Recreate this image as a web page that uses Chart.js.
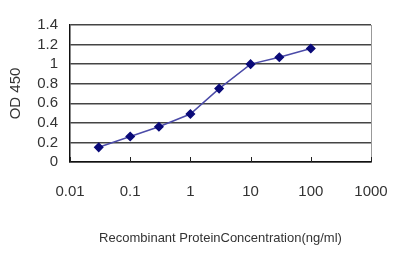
<!DOCTYPE html>
<html>
<head>
<meta charset="utf-8">
<script src="https://cdn.jsdelivr.net/npm/chart.js@4.4.0/dist/chart.umd.min.js"></script>
<style>
  html, body { margin: 0; padding: 0; background: #fff; }
  #wrap { width: 400px; height: 267px; }
</style>
</head>
<body>
<div id="wrap"><canvas id="odChart" width="400" height="267"></canvas></div>
<script>
// concentration (ng/ml) vs OD 450
const concentrations = [0.03, 0.1, 0.3, 1, 3, 10, 30, 100];
const odValues = [0.15, 0.26, 0.36, 0.49, 0.75, 1.0, 1.07, 1.16];
const xTickValues = [0.01, 0.1, 1, 10, 100, 1000];
const yTickValues = [0, 0.2, 0.4, 0.6, 0.8, 1, 1.2, 1.4];

// Excel style: small tick marks inside the plot, grey right border
const plotFrame = {
  id: 'plotFrame',
  afterDraw(chart) {
    const { ctx, chartArea, scales } = chart;
    ctx.save();
    ctx.strokeStyle = '#999';
    ctx.lineWidth = 1;
    ctx.beginPath();
    ctx.moveTo(chartArea.right + 0.5, chartArea.top);
    ctx.lineTo(chartArea.right + 0.5, chartArea.bottom);
    ctx.stroke();
    ctx.strokeStyle = '#222';
    ctx.beginPath();
    xTickValues.forEach((v) => {
      const px = Math.round(scales.x.getPixelForValue(v)) + 0.5;
      ctx.moveTo(px, chartArea.bottom);
      ctx.lineTo(px, chartArea.bottom - 5);
    });
    ctx.stroke();
    ctx.restore();
  }
};

const ctx = document.getElementById('odChart').getContext('2d');
new Chart(ctx, {
  type: 'line',
  data: {
    datasets: [{
      data: concentrations.map((c, i) => ({ x: c, y: odValues[i] })),
      borderColor: '#4b4ba8',
      borderWidth: 1.5,
      backgroundColor: '#0a0a78',
      pointStyle: 'rectRot',
      pointRadius: 4,
      pointBorderColor: '#0a0a78',
      tension: 0,
    }]
  },
  options: {
    responsive: false,
    animation: false,
    layout: { padding: { top: 25, right: 29, bottom: 0, left: 2 } },
    plugins: { legend: { display: false }, tooltip: { enabled: false } },
    scales: {
      x: {
        type: 'logarithmic',
        min: 0.01,
        max: 1000,
        afterBuildTicks: (scale) => {
          scale.ticks = xTickValues.map((v) => ({ value: v }));
        },
        afterFit: (scale) => {
          scale.height = 105;
          scale.paddingLeft = 0;
          scale.paddingRight = 0;
        },
        ticks: {
          color: '#333',
          font: { family: 'Liberation Sans, Arial', size: 15 },
          padding: 21,
          maxRotation: 0,
          autoSkip: false,
          callback: (v) => String(v),
        },
        grid: { display: false, drawTicks: false },
        border: { display: true, color: '#111', width: 1.5 },
        title: {
          display: true,
          text: 'Recombinant ProteinConcentration(ng/ml)',
          color: '#333',
          font: { family: 'Liberation Sans, Arial', size: 13 },
          padding: { top: 21, bottom: 21 },
        }
      },
      y: {
        min: 0,
        max: 1.4,
        afterBuildTicks: (scale) => {
          scale.ticks = yTickValues.map((v) => ({ value: v }));
        },
        afterFit: (scale) => {
          scale.width = 68;
          scale.paddingTop = 0;
          scale.paddingBottom = 0;
        },
        ticks: {
          autoSkip: false,
          color: '#333',
          font: { family: 'Liberation Sans, Arial', size: 15 },
          padding: 12,
          callback: (v) => String(v),
        },
        grid: { color: '#444', lineWidth: 1.5, drawTicks: false },
        border: { display: true, color: '#111', width: 1.5 },
        title: {
          display: true,
          text: 'OD 450',
          color: '#333',
          font: { family: 'Liberation Sans, Arial', size: 15 },
          padding: { top: 5, bottom: 5 },
        }
      }
    }
  },
  plugins: [plotFrame]
});
</script>
</body>
</html>
